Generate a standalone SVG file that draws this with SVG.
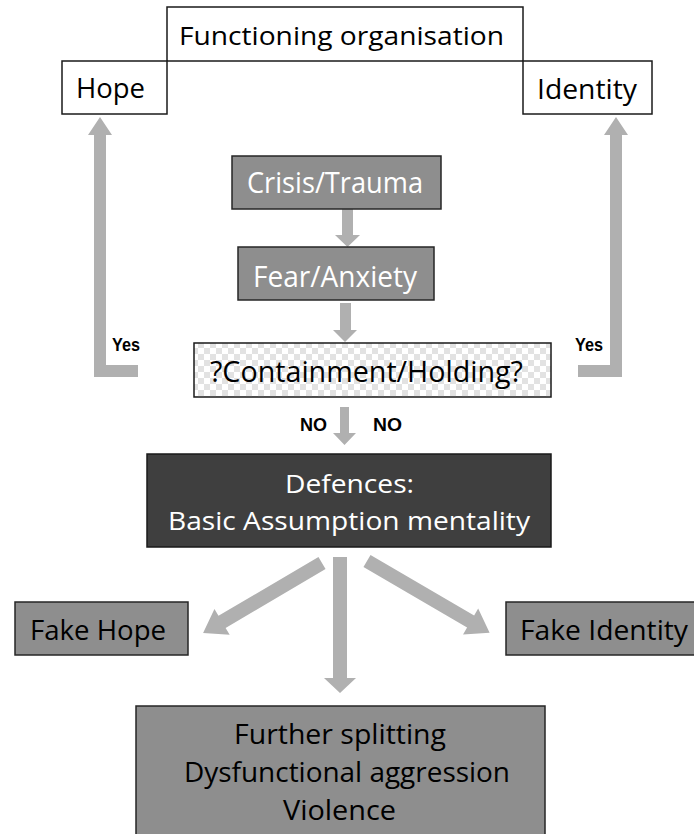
<svg xmlns="http://www.w3.org/2000/svg" width="694" height="834" viewBox="0 0 694 834">
<defs>
<pattern id="checker" width="12" height="12" patternUnits="userSpaceOnUse">
<rect width="12" height="12" fill="#ffffff"/>
<rect width="6" height="6" fill="#e2e2e2"/>
<rect x="6" y="6" width="6" height="6" fill="#e2e2e2"/>
</pattern>
</defs>
<style>
.wbox{fill:#ffffff;stroke:#1a1a1a;stroke-width:1.5}
.gbox{fill:#8e8e8e;stroke:#262626;stroke-width:1.5}
.dbox{fill:#3f3f3f;stroke:#1a1a1a;stroke-width:1.5}
.t{font-family:"Open Sans","Liberation Sans",sans-serif;fill:#000}
.tw{font-family:"Open Sans","Liberation Sans",sans-serif;fill:#ffffff}
.lbl{font-family:"Liberation Sans","Open Sans",sans-serif;font-weight:bold;font-size:18px;fill:#000}
.arr{fill:#b0b0b0}
</style>
<rect width="694" height="834" fill="#ffffff"/>

<g id="connectors">
<polygon class="arr" points="138,365 106,365 106,135 112,135 100,117 88,135 94,135 94,377 138,377"/>
<polygon class="arr" points="578,365 610,365 610,135 604,135 616,117 628,135 622,135 622,377 578,377"/>
<polygon class="arr" points="342,209 353,209 353,235 360,235 347.5,247 335,235 342,235"/>
<polygon class="arr" points="340,303 351,303 351,330 357,330 345,342 333,330 340,330"/>
<polygon class="arr" points="340,407 349,407 349,433 356,433 344.5,445 333,433 340,433"/>
<polygon class="arr" points="333,557 347,557 347,678 356,678 340,693 324,678 333,678"/>
<polygon class="arr" transform="translate(322,563) rotate(149.5)" points="0,-7 116,-7 116,-15 138,0 116,15 116,7 0,7"/>
<polygon class="arr" transform="translate(367,561) rotate(30.3)" points="0,-7 120,-7 120,-15 142,0 120,15 120,7 0,7"/>
<text class="lbl" x="112" y="351" textLength="28" lengthAdjust="spacingAndGlyphs">Yes</text>
<text class="lbl" x="575" y="351" textLength="28" lengthAdjust="spacingAndGlyphs">Yes</text>
<text class="lbl" x="300" y="431" textLength="27" lengthAdjust="spacingAndGlyphs">NO</text>
<text class="lbl" x="373" y="431" textLength="29" lengthAdjust="spacingAndGlyphs">NO</text>
</g>

<g id="functioning">
<rect class="wbox" x="167" y="7" width="356" height="54"/>
<text class="t" x="179" y="45" font-size="26" textLength="325" lengthAdjust="spacingAndGlyphs">Functioning organisation</text>
</g>
<g id="hope">
<rect class="wbox" x="62" y="61" width="105" height="53"/>
<text class="t" x="76" y="98" font-size="28" textLength="69" lengthAdjust="spacingAndGlyphs">Hope</text>
</g>
<g id="identity">
<rect class="wbox" x="523" y="61" width="129" height="53"/>
<text class="t" x="537" y="99" font-size="28" textLength="100" lengthAdjust="spacingAndGlyphs">Identity</text>
</g>
<g id="crisis">
<rect class="gbox" x="232" y="156" width="209" height="53"/>
<text class="tw" x="247" y="193" font-size="29" textLength="176" lengthAdjust="spacingAndGlyphs">Crisis/Trauma</text>
</g>
<g id="fear">
<rect class="gbox" x="238" y="247" width="196" height="53"/>
<text class="tw" x="253" y="287" font-size="29" textLength="164" lengthAdjust="spacingAndGlyphs">Fear/Anxiety</text>
</g>
<g id="containment">
<rect x="194" y="343" width="357" height="54" fill="url(#checker)" stroke="#1a1a1a" stroke-width="1.5"/>
<text class="t" x="210" y="382" font-size="29" textLength="313" lengthAdjust="spacingAndGlyphs">?Containment/Holding?</text>
</g>
<g id="defences">
<rect class="dbox" x="147" y="454" width="404" height="93"/>
<text class="tw" x="285" y="493" font-size="26" textLength="129" lengthAdjust="spacingAndGlyphs">Defences:</text>
<text class="tw" x="168" y="530" font-size="26" textLength="362" lengthAdjust="spacingAndGlyphs">Basic Assumption mentality</text>
</g>
<g id="fakehope">
<rect class="gbox" x="15" y="602" width="173" height="53"/>
<text class="t" x="30" y="640" font-size="27" textLength="136" lengthAdjust="spacingAndGlyphs">Fake Hope</text>
</g>
<g id="fakeidentity">
<rect class="gbox" x="506" y="602" width="200" height="53"/>
<text class="t" x="520" y="640" font-size="27" textLength="168" lengthAdjust="spacingAndGlyphs">Fake Identity</text>
</g>
<g id="outcome">
<rect class="gbox" x="136" y="706" width="409" height="140"/>
<text class="t" x="234" y="744" font-size="27" textLength="212" lengthAdjust="spacingAndGlyphs">Further splitting</text>
<text class="t" x="184" y="782" font-size="27" textLength="326" lengthAdjust="spacingAndGlyphs">Dysfunctional aggression</text>
<text class="t" x="283" y="820" font-size="27" textLength="113" lengthAdjust="spacingAndGlyphs">Violence</text>
</g>
</svg>
